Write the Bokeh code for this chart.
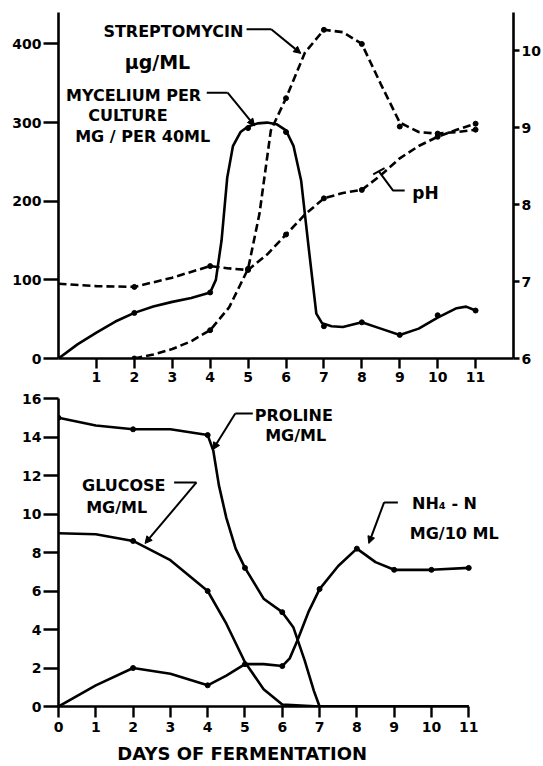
from bokeh.plotting import figure
from bokeh.models import Range1d, LinearAxis, FixedTicker, Label, Arrow, NormalHead
from bokeh.layouts import column
from bokeh.embed import file_html
from bokeh.resources import INLINE

# ---------------- data ----------------
# Top panel: mycelium (mg / 40 ml), streptomycin (ug/ml), pH
myc_days = [2, 4, 5, 6, 7, 8, 9, 10, 11]
myc_vals = [58, 84, 293, 288, 41, 46, 30, 55, 61]
myc_curve_days = [0, 0.5, 1, 1.5, 2, 2.5, 3, 3.5, 4, 4.15, 4.3, 4.45, 4.6, 4.8, 5, 5.25, 5.5,
                  5.75, 6, 6.2, 6.4, 6.6, 6.8, 6.95, 7.2, 7.5, 8, 8.5, 9, 9.5, 10, 10.5, 10.75, 11]
myc_curve_vals = [0, 18, 33, 47, 58, 66, 72, 77, 84, 100, 150, 230, 270, 288, 295, 299, 300,
                  298, 290, 270, 226, 140, 57, 45, 41, 40, 46, 38, 30, 38, 52, 64, 66, 61]

strep_days = [2, 4, 5, 6, 7, 8, 9, 10, 11]
strep_vals = [0, 36, 114, 331, 418, 400, 295, 286, 291]
strep_curve_days = [2, 2.5, 3, 3.5, 4, 4.5, 5, 5.3, 5.6, 6, 6.5, 7, 7.5, 8, 8.5, 9, 9.5, 10, 10.5, 11]
strep_curve_vals = [0, 5, 12, 22, 36, 65, 114, 184, 290, 331, 389, 418, 415, 400, 349, 300, 288, 286, 288, 291]

ph_days = [2, 4, 5, 6, 7, 8, 10, 11]
ph_vals = [6.93, 7.2, 7.15, 7.61, 8.08, 8.19, 8.88, 9.05]
ph_curve_days = [0, 1, 2, 3, 4, 4.5, 5, 5.5, 6, 6.5, 7, 7.5, 8, 8.5, 9, 9.5, 10, 10.5, 11]
ph_curve_vals = [6.97, 6.94, 6.93, 7.05, 7.2, 7.17, 7.15, 7.35, 7.61, 7.87, 8.08, 8.15, 8.19,
                 8.38, 8.6, 8.76, 8.88, 8.97, 9.05]

top_x_ticks = [1, 2, 3, 4, 5, 6, 7, 8, 9, 10, 11]
top_left_ticks = [0, 100, 200, 300, 400]
top_right_ticks = [6, 7, 8, 9, 10]

# Bottom panel: proline, glucose (mg/ml), NH4-N (mg/10 ml)
pro_days = [0, 2, 4, 5, 6]
pro_vals = [15, 14.4, 14.1, 7.2, 4.9]
pro_curve_days = [0, 1, 2, 3, 4, 4.15, 4.3, 4.5, 4.75, 5, 5.5, 6, 6.3, 6.6, 6.85, 7, 8, 9, 10, 11]
pro_curve_vals = [15, 14.6, 14.4, 14.4, 14.1, 13.3, 11.5, 9.8, 8.2, 7.2, 5.6, 4.9, 4.1, 2.4, 0.8, 0, 0, 0, 0, 0]

glu_days = [2, 4]
glu_vals = [8.6, 6.0]
glu_curve_days = [0, 1, 2, 3, 4, 4.5, 5, 5.5, 6, 7, 8, 9, 10, 11]
glu_curve_vals = [9, 8.95, 8.6, 7.6, 6.0, 4.3, 2.3, 0.9, 0.1, 0, 0, 0, 0, 0]

nh4_days = [2, 4, 5, 6, 7, 8, 9, 10, 11]
nh4_vals = [2.0, 1.1, 2.2, 2.1, 6.1, 8.2, 7.1, 7.1, 7.2]
nh4_curve_days = [0, 1, 2, 3, 4, 4.5, 5, 5.5, 6, 6.2, 6.4, 6.7, 7, 7.5, 8, 8.5, 9, 10, 11]
nh4_curve_vals = [0, 1.1, 2.0, 1.7, 1.1, 1.6, 2.2, 2.2, 2.1, 2.5, 3.4, 4.9, 6.1, 7.3, 8.2, 7.5, 7.1, 7.1, 7.2]

bot_x_ticks = [0, 1, 2, 3, 4, 5, 6, 7, 8, 9, 10, 11]
bot_y_ticks = [0, 2, 4, 6, 8, 10, 12, 14, 16]

# ---------------- styling ----------------
FONT = "DejaVu Sans"
LW = 2.6
DASH = "8 4"


def style_axis(ax, tick_out, standoff, size="14px"):
    ax.axis_line_width = 2.6
    ax.axis_line_color = "black"
    ax.major_tick_line_width = 2.4
    ax.major_tick_line_color = "black"
    ax.major_tick_out = tick_out
    ax.major_tick_in = 0
    ax.minor_tick_line_color = None
    ax.major_label_text_font = FONT
    ax.major_label_text_font_style = "bold"
    ax.major_label_text_font_size = size
    ax.major_label_text_color = "black"
    ax.major_label_standoff = standoff


def label(p, x, y, text, size="16px", baseline="middle"):
    p.add_layout(Label(x=x, y=y, text=text, text_font=FONT, text_font_style="bold",
                       text_font_size=size, text_align="center", text_baseline=baseline,
                       text_color="black"))


def leader(p, xs, ys):
    p.line(xs[:-1], ys[:-1], line_color="black", line_width=2)
    p.add_layout(Arrow(x_start=xs[-2], y_start=ys[-2], x_end=xs[-1], y_end=ys[-1],
                       line_width=2, line_color="black",
                       end=NormalHead(size=7, fill_color="black", line_color="black")))


# ---------------- top panel ----------------
top = figure(width=543, height=388, output_backend="svg", toolbar_location=None,
             x_range=Range1d(0, 12), y_range=Range1d(0, 440),
             min_border_left=56, min_border_right=26, min_border_top=12, min_border_bottom=30)
top.extra_y_ranges = {"ph": Range1d(6, 10.494)}
top.outline_line_color = None
top.grid.visible = False
top.background_fill_color = "white"

style_axis(top.xaxis[0], 10, 3)
top.xaxis[0].ticker = FixedTicker(ticks=top_x_ticks)
style_axis(top.yaxis[0], 15, 2)
top.yaxis[0].ticker = FixedTicker(ticks=top_left_ticks)
rax = LinearAxis(y_range_name="ph", ticker=FixedTicker(ticks=top_right_ticks))
style_axis(rax, 6, 2)
top.add_layout(rax, "right")

top.line(myc_curve_days, myc_curve_vals, line_color="black", line_width=LW, line_join="round")
top.scatter(myc_days, myc_vals, size=5, color="black")
top.line(strep_curve_days, strep_curve_vals, line_color="black", line_width=LW, line_dash=DASH)
top.scatter(strep_days, strep_vals, size=5, color="black")
top.line(ph_curve_days, ph_curve_vals, line_color="black", line_width=LW, line_dash=DASH,
         y_range_name="ph")
top.scatter(ph_days, ph_vals, size=5, color="black", y_range_name="ph")

label(top, 3.03, 416, "STREPTOMYCIN")
label(top, 2.61, 377, "μg/ML", size="19px")
label(top, 1.98, 335, "MYCELIUM PER")
label(top, 1.83, 309, "CULTURE")
label(top, 2.22, 282, "MG / PER 40ML")
label(top, 9.68, 211, "pH", size="17px", baseline="alphabetic")

leader(top, [4.96, 5.61, 6.39], [418.6, 418.6, 388])
leader(top, [3.91, 4.46, 5.17], [338, 338, 296])
top.line([9.13, 8.82, 8.45], [213.7, 213.7, 238], line_color="black", line_width=2)
top.line([8.3, 8.6], [234, 242], line_color="black", line_width=2)

# ---------------- bottom panel ----------------
bot = figure(width=543, height=378, output_backend="svg", toolbar_location=None,
             x_range=Range1d(0, 12.2), y_range=Range1d(0, 16),
             min_border_left=58, min_border_right=17, min_border_top=10, min_border_bottom=60)
bot.outline_line_color = None
bot.grid.visible = False
style_axis(bot.xaxis[0], 11, 4)
bot.xaxis[0].ticker = FixedTicker(ticks=bot_x_ticks)
bot.xaxis[0].bounds = (0, 11)
bot.xaxis[0].axis_label = "DAYS OF FERMENTATION" + "\u00a0" * 14
bot.xaxis[0].axis_label_text_font = FONT
bot.xaxis[0].axis_label_text_font_style = "bold"
bot.xaxis[0].axis_label_text_font_size = "18px"
bot.xaxis[0].axis_label_text_color = "black"
bot.xaxis[0].axis_label_text_line_height = 0.7
bot.xaxis[0].axis_label_standoff = 8
style_axis(bot.yaxis[0], 15, 2)
bot.yaxis[0].ticker = FixedTicker(ticks=bot_y_ticks)

bot.line(pro_curve_days, pro_curve_vals, line_color="black", line_width=LW, line_join="round")
bot.scatter(pro_days, pro_vals, size=5, color="black")
bot.line(glu_curve_days, glu_curve_vals, line_color="black", line_width=LW, line_join="round")
bot.scatter(glu_days, glu_vals, size=5, color="black")
bot.line(nh4_curve_days, nh4_curve_vals, line_color="black", line_width=LW, line_join="round")
bot.scatter(nh4_days, nh4_vals, size=5, color="black")

label(bot, 6.31, 15.12, "PROLINE")
label(bot, 6.36, 14.08, "MG/ML")
label(bot, 1.75, 11.48, "GLUCOSE")
label(bot, 1.56, 10.34, "MG/ML")
label(bot, 10.35, 10.55, "NH₄ - N")
label(bot, 10.61, 8.99, "MG/10 ML")

leader(bot, [5.21, 4.74, 4.14], [15.22, 15.22, 13.35])
leader(bot, [3.10, 3.70, 2.32], [11.64, 11.64, 8.47])
leader(bot, [9.10, 8.73, 8.32], [10.6, 10.6, 8.47])

layout = column(top, bot, spacing=0)
open("out.html", "w").write(file_html(layout, INLINE))
